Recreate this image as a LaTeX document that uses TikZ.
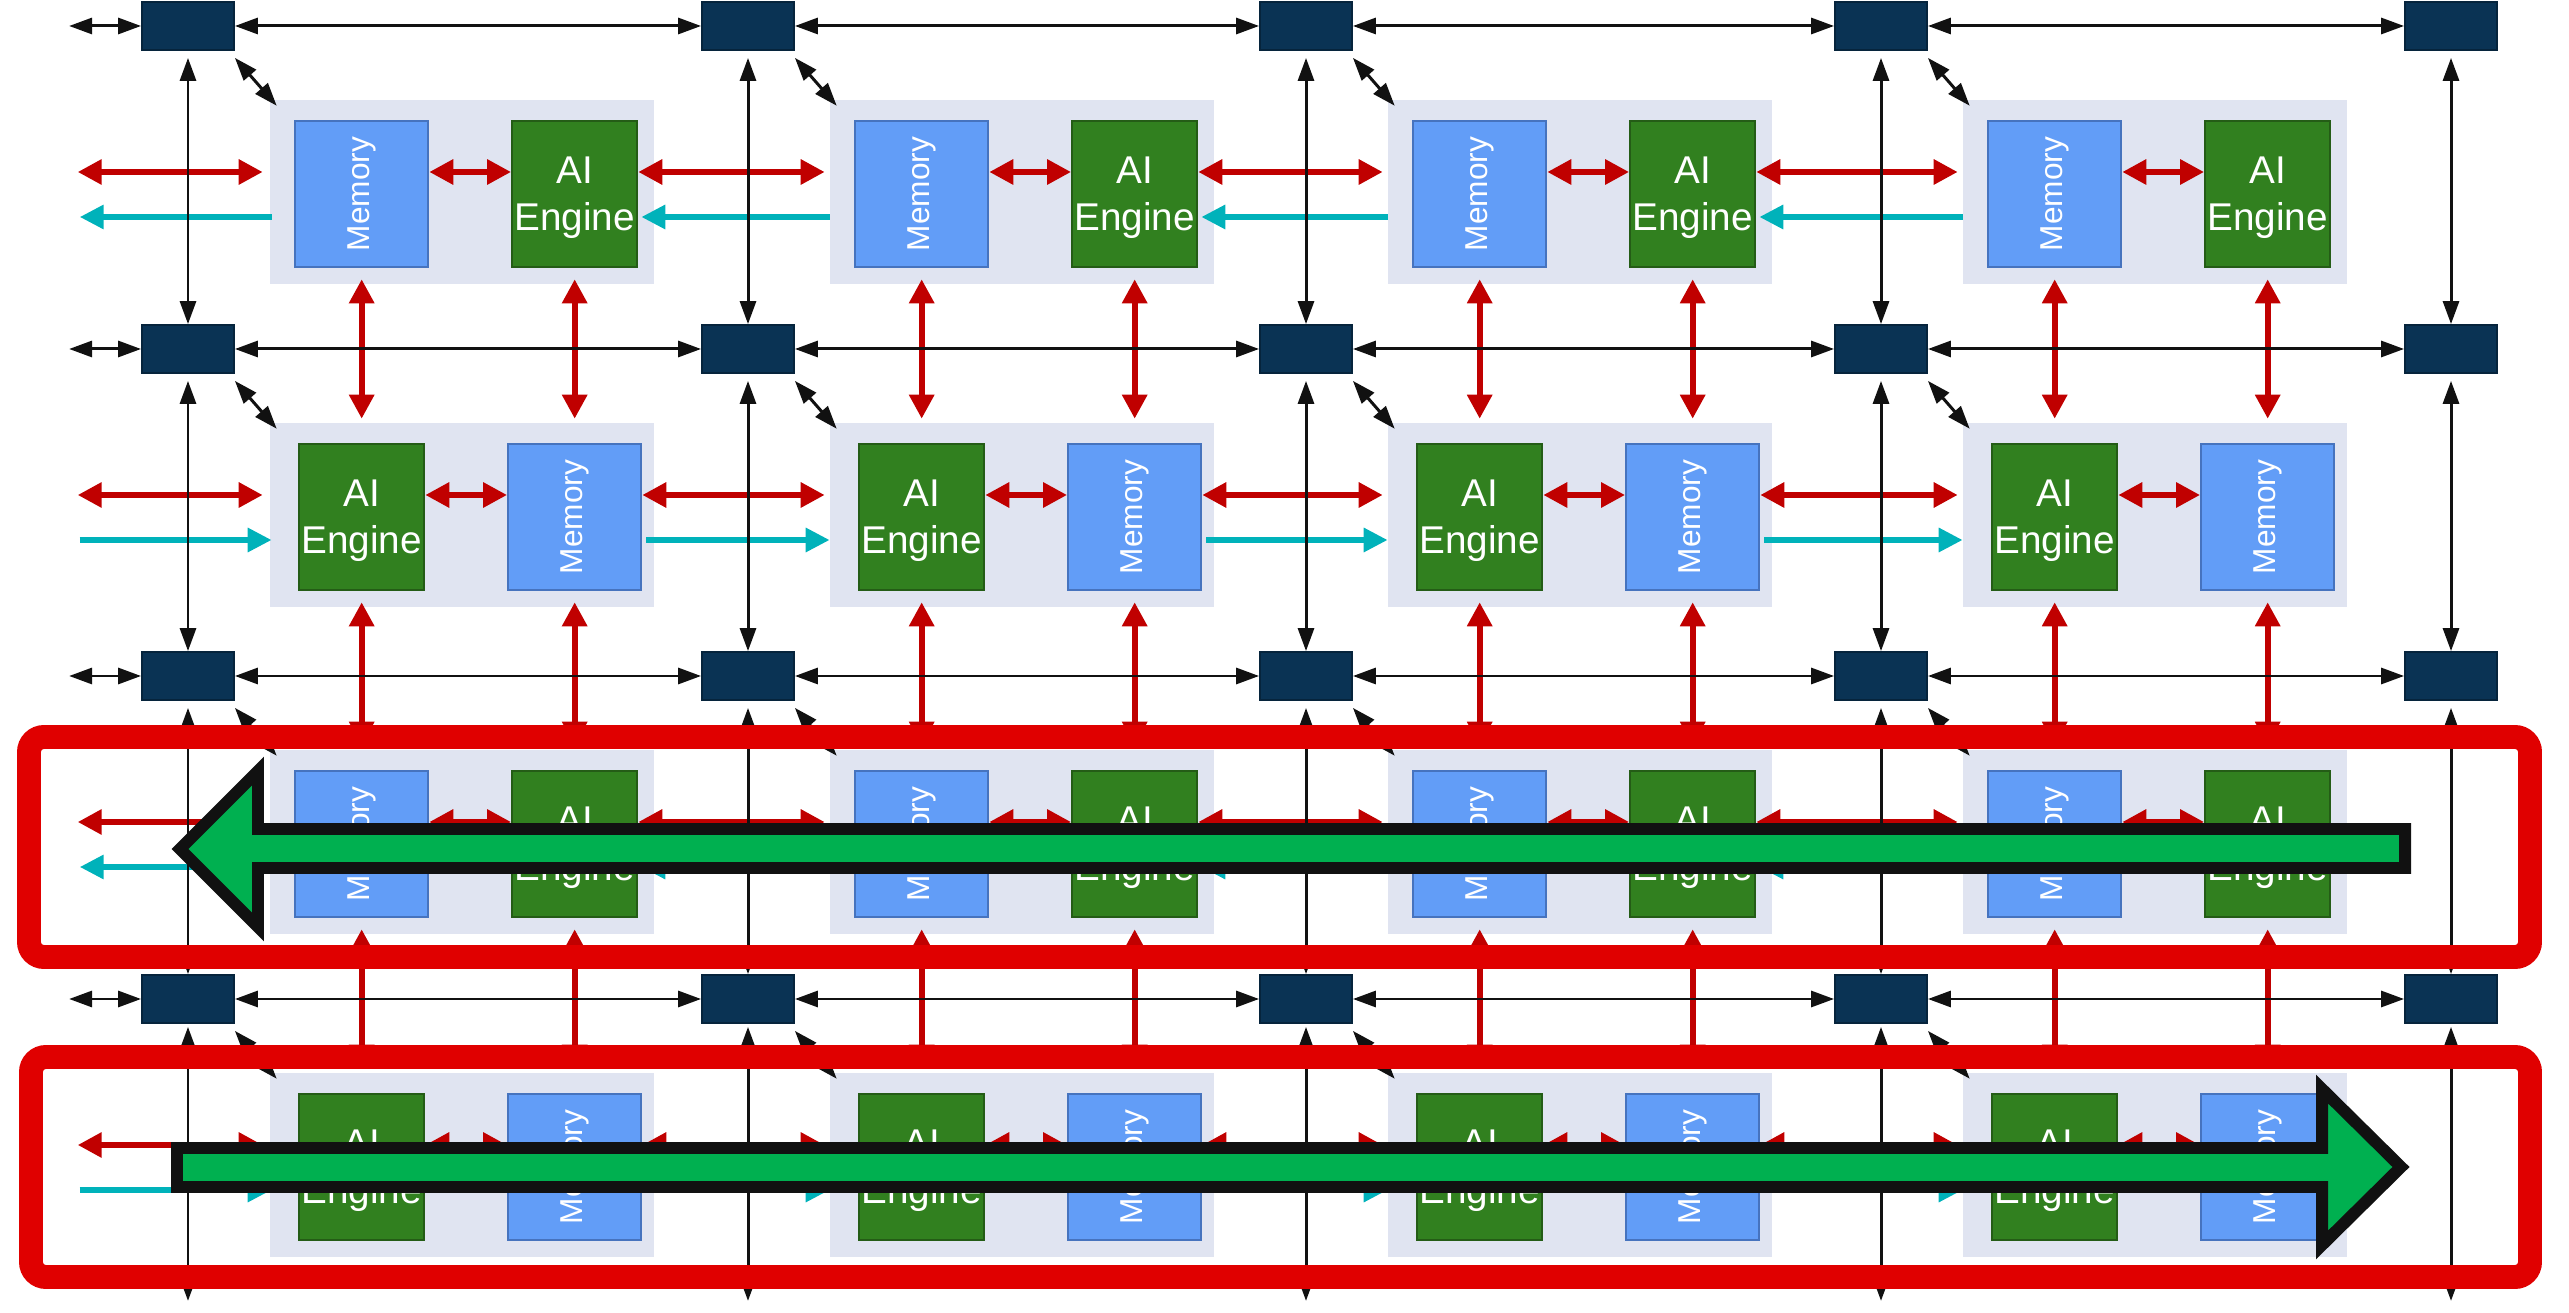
\documentclass[tikz,border=0pt]{standalone}
\usepackage{fontspec}
\usepackage{graphicx}
\usetikzlibrary{arrows.meta,calc}
\newfontfamily\tilefont{Liberation Sans}
\definecolor{swfill}{RGB}{10,51,84}
\definecolor{swline}{RGB}{6,36,60}
\definecolor{tilebg}{RGB}{224,228,241}
\definecolor{memfill}{RGB}{98,157,247}
\definecolor{memline}{RGB}{70,115,190}
\definecolor{aiefill}{RGB}{49,128,31}
\definecolor{aieline}{RGB}{36,92,22}
\definecolor{linkred}{RGB}{192,0,0}
\definecolor{linkcyan}{RGB}{0,178,186}
\definecolor{boxred}{RGB}{224,0,0}
\definecolor{flowgreen}{RGB}{0,176,80}
\definecolor{inkblack}{RGB}{17,17,17}

\begin{document}
\begin{tikzpicture}[
  x=0.01cm,y=-0.01cm,
  sw/.style={draw=swline, fill=swfill, line width=0.5pt, minimum width=0.92cm, minimum height=0.48cm, inner sep=0pt},
  tile/.style={fill=tilebg, minimum width=3.83cm, minimum height=1.83cm, inner sep=0pt},
  mem/.style={draw=memline, fill=memfill, line width=0.6pt, minimum width=1.33cm, minimum height=1.46cm, inner sep=0pt, text=white, font=\tilefont\fontsize{9}{11}\selectfont},
  aie/.style={draw=aieline, fill=aiefill, line width=0.6pt, minimum width=1.25cm, minimum height=1.46cm, inner sep=0pt, text=white, align=center, text depth=0pt, font=\tilefont\fontsize{11}{13.4}\selectfont},
  blk/.style={<->, >={Triangle[length=2.3mm,width=1.6mm]}, line width=0.85pt, draw=inkblack},
  redarr/.style={<->, >={Triangle[length=2.4mm,width=2.4mm]}, line width=1.7pt, draw=linkred},
  cyarr/.style={->, >={Triangle[length=2.4mm,width=2.3mm]}, line width=1.7pt, draw=linkcyan},
  hilite/.style={draw=boxred, line width=6.8pt, rounded corners=1.5mm},
  bigarrow/.style={draw=inkblack, fill=flowgreen, line width=3.4pt, line join=miter}
]
\useasboundingbox (0,0) rectangle (2569,1313);

\foreach \c/\x in {1/188,2/748,3/1306,4/1881,5/2451}
  \foreach \r/\y in {1/26,2/349,3/676,4/999}
    \node[sw] (sw\r-\c) at (\x,\y) {};

\foreach \r in {1,...,4}
  \foreach \c in {1,...,4}{
    \node[tile] (tile\r-\c) at ($(sw\r-\c)+(274,166)$) {};
    \ifodd\r\relax
      \node[mem] (lft\r-\c) at ($(tile\r-\c.west)+(92,2)$) {\rotatebox{90}{Memory}};
      \node[aie] (rgt\r-\c) at ($(tile\r-\c.west)+(305,2)$) {AI\\Engine};
    \else
      \node[aie] (lft\r-\c) at ($(tile\r-\c.west)+(92,2)$) {AI\\Engine};
      \node[mem] (rgt\r-\c) at ($(tile\r-\c.west)+(305,2)$) {\rotatebox{90}{Memory}};
    \fi
  }

\foreach \r in {1,...,4}{
  \coordinate (rin\r) at ($(tile\r-1.west)+(-192,-20)$);
  \coordinate (cin\r) at ($(tile\r-1.west)+(-190,25)$);
  \draw[redarr] (rin\r) -- ($(tile\r-1.west)+(-7,-20)$);
  \foreach \c [count=\p] in {2,3,4}
    \draw[redarr] ($(rgt\r-\p.east)+(0,-22)$) -- ($(tile\r-\c.west)+(-5,-20)$);
  \foreach \c in {1,...,4}
    \draw[redarr] ($(lft\r-\c.east)+(0,-22)$) -- ($(rgt\r-\c.west)+(0,-22)$);
  \ifodd\r\relax
    \draw[cyarr] ($(tile\r-1.west)+(2,25)$) -- (cin\r);
    \foreach \c [count=\p] in {2,3,4}
      \draw[cyarr] ($(tile\r-\c.west)+(0,25)$) -- ($(rgt\r-\p.east)+(3,23)$);
  \else
    \draw[cyarr] (cin\r) -- ($(tile\r-1.west)+(2,25)$);
    \foreach \c [count=\p] in {2,3,4}
      \draw[cyarr] ($(rgt\r-\p.east)+(4,23)$) -- ($(tile\r-\c.west)+(0,25)$);
  \fi
}

\foreach \r [count=\n from 2] in {1,2,3}
  \foreach \c in {1,...,4}{
    \draw[redarr, shorten <=-0.05cm, shorten >=0.04cm] (lft\r-\c |- tile\r-\c.south) -- (lft\r-\c |- tile\n-\c.north);
    \draw[redarr, shorten <=-0.05cm, shorten >=0.04cm] (rgt\r-\c |- tile\r-\c.south) -- (rgt\r-\c |- tile\n-\c.north);
  }

\foreach \r in {1,...,4}{
  \coordinate (lin\r) at ($(sw\r-1.west)+(-72,0)$);
  \draw[blk] (lin\r) -- (sw\r-1.west);
  \foreach \c [count=\n from 2] in {1,...,4}{
    \draw[blk] (sw\r-\c.east) -- (sw\r-\n.west);
    \draw[blk] ($(sw\r-\c.south east)+(0,7)$) -- ($(tile\r-\c.north west)+(7,6)$);
  }
}
\foreach \c in {1,...,5}{
  \foreach \r [count=\n from 2] in {1,2,3}
    \draw[blk, shorten <=0.07cm] (sw\r-\c.south) -- (sw\n-\c.north);
  \coordinate (bot\c) at ($(sw4-\c.south)+(0,277)$);
  \draw[blk, shorten <=0.03cm] (sw4-\c.south) -- (bot\c);
}

\draw[hilite] (29,737) rectangle (2530,957);
\draw[hilite] (31,1057) rectangle (2530,1277);

\draw[bigarrow] (2405,829) -- (258,829) -- (258,771) -- (180,849) -- (258,927) -- (258,868) -- (2405,868) -- cycle;
\draw[bigarrow] (177,1148) -- (2322,1148) -- (2322,1089) -- (2401,1167) -- (2322,1245) -- (2322,1187) -- (177,1187) -- cycle;
\end{tikzpicture}
\end{document}
